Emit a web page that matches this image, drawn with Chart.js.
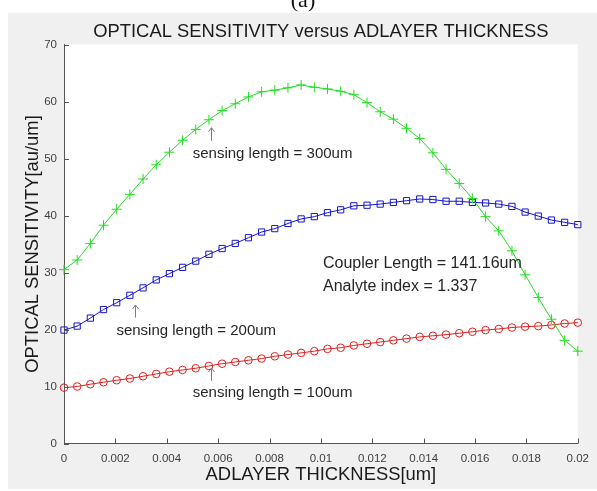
<!DOCTYPE html>
<html>
<head>
<meta charset="utf-8">
<script src="https://cdn.jsdelivr.net/npm/chart.js@4/dist/chart.umd.min.js"></script>
<style>
  html, body { margin: 0; padding: 0; background: #ffffff; }
  #wrap { width: 597px; height: 491px; }
</style>
</head>
<body>
<div id="wrap"><canvas id="c" width="597" height="491"></canvas></div>
<script>
// Adlayer thickness samples [um]
const thickness = [
  0, 0.000513, 0.001026, 0.001538, 0.002051, 0.002564, 0.003077, 0.003590,
  0.004103, 0.004615, 0.005128, 0.005641, 0.006154, 0.006667, 0.007179, 0.007692,
  0.008205, 0.008718, 0.009231, 0.009744, 0.010256, 0.010769, 0.011282, 0.011795,
  0.012308, 0.012821, 0.013333, 0.013846, 0.014359, 0.014872, 0.015385, 0.015897,
  0.016410, 0.016923, 0.017436, 0.017949, 0.018462, 0.018974, 0.019487, 0.020000
];

// Optical sensitivity [au/um] for each sensing length
const sens300 = [
  30.5, 32.2, 35.1, 38.3, 41.1, 43.7, 46.4, 48.9, 51.1, 53.2,
  55.1, 56.8, 58.4, 59.6, 60.8, 61.7, 62.0, 62.4, 62.9, 62.5,
  62.2, 61.8, 61.2, 59.8, 58.2, 56.9, 55.3, 53.5, 51.0, 48.1,
  45.6, 43.0, 39.8, 37.3, 33.8, 29.6, 25.6, 21.8, 18.1, 16.2
];
const sens200 = [
  19.9, 20.6, 22.0, 23.5, 24.7, 26.0, 27.3, 28.7, 29.8, 30.9,
  32.0, 33.2, 34.2, 35.1, 36.1, 37.1, 37.7, 38.6, 39.4, 39.8,
  40.5, 41.0, 41.7, 41.8, 42.0, 42.3, 42.6, 42.9, 42.8, 42.5,
  42.5, 42.3, 42.2, 42.0, 41.6, 40.6, 39.9, 39.2, 38.8, 38.4
];
const sens100 = [
  9.8, 10.0, 10.4, 10.75, 11.1, 11.4, 11.8, 12.2, 12.6, 12.9,
  13.2, 13.6, 14.0, 14.3, 14.6, 14.9, 15.3, 15.6, 15.9, 16.2,
  16.6, 16.8, 17.2, 17.5, 17.8, 18.1, 18.4, 18.7, 18.9, 19.1,
  19.35, 19.6, 19.9, 20.1, 20.35, 20.5, 20.6, 20.8, 21.05, 21.2
];

// Axis ticks
const xTicks = [0, 0.002, 0.004, 0.006, 0.008, 0.01, 0.012, 0.014, 0.016, 0.018, 0.02];
const xTickLabels = ['0', '0.002', '0.004', '0.006', '0.008', '0.01', '0.012', '0.014', '0.016', '0.018', '0.02'];
const yTicks = [0, 10, 20, 30, 40, 50, 60, 70];
const yTickLabels = ['0', '10', '20', '30', '40', '50', '60', '70'];

// Texts
const figureTag = '(a)';
const chartTitle = 'OPTICAL SENSITIVITY versus ADLAYER THICKNESS';
const xTitle = 'ADLAYER THICKNESS[um]';
const yTitle = 'OPTICAL SENSITIVITY[au/um]';

// Curve labels: text anchor (left, middle) and arrow tip/tail in data units
const curveNotes = [
  { text: 'sensing length = 300um', x: 0.00501, y: 50.8, ax: 0.00574, ayTip: 55.4, ayTail: 53.1 },
  { text: 'sensing length = 200um', x: 0.00204, y: 19.7, ax: 0.00277, ayTip: 24.3, ayTail: 22.1 },
  { text: 'sensing length = 100um', x: 0.00501, y: 8.85, ax: 0.00574, ayTip: 13.25, ayTail: 11.0 }
];
const infoLines = ['Coupler Length = 141.16um', 'Analyte index = 1.337'];
const infoAnchor = { x: 0.01008, y: 31.6 };

const FONT = '"Liberation Sans", Arial, Helvetica, sans-serif';

const pairs = ys => thickness.map((t, i) => ({ x: t, y: ys[i] }));

const figurePlugin = {
  id: 'figure',
  beforeDraw(chart) {
    const { ctx, chartArea: a, width, height } = chart;
    ctx.save();
    ctx.fillStyle = '#ffffff';
    ctx.fillRect(0, 0, width, height);
    // figure tag, partly covered by the figure panel
    ctx.fillStyle = '#111111';
    ctx.font = '22px "Liberation Serif", "Times New Roman", serif';
    ctx.textAlign = 'center';
    ctx.textBaseline = 'alphabetic';
    ctx.fillText(figureTag, 303, 7);
    ctx.fillStyle = '#f0f0f0';
    ctx.fillRect(8, 13, width - 8, height - 15);
    ctx.fillStyle = '#ffffff';
    ctx.fillRect(a.left, a.top, a.right - a.left, a.bottom - a.top);
    ctx.restore();
  },
  afterDraw(chart) {
    const { ctx, chartArea: a, scales: { x, y } } = chart;
    ctx.save();
    // inward tick marks
    ctx.strokeStyle = '#555555';
    ctx.lineWidth = 1;
    ctx.beginPath();
    xTicks.forEach(v => {
      const px = Math.round(x.getPixelForValue(v)) + 0.5;
      ctx.moveTo(px, a.bottom);
      ctx.lineTo(px, a.bottom - 5);
    });
    yTicks.forEach(v => {
      const py = Math.round(y.getPixelForValue(v)) + 0.5;
      ctx.moveTo(a.left, py);
      ctx.lineTo(a.left + 5, py);
    });
    ctx.stroke();

    // titles
    ctx.fillStyle = '#1a1a1a';
    ctx.font = '18.4px ' + FONT;
    ctx.textAlign = 'center';
    ctx.textBaseline = 'alphabetic';
    const cx = (a.left + a.right) / 2;
    ctx.fillText(chartTitle, cx, 37);
    ctx.fillText(xTitle, cx, 480);
    ctx.save();
    ctx.translate(38, (a.top + a.bottom) / 2);
    ctx.rotate(-Math.PI / 2);
    ctx.fillText(yTitle, 0, 0);
    ctx.restore();

    // curve labels with arrows
    ctx.font = '15px ' + FONT;
    ctx.textAlign = 'left';
    ctx.textBaseline = 'middle';
    curveNotes.forEach(n => {
      ctx.fillStyle = '#262626';
      ctx.fillText(n.text, x.getPixelForValue(n.x), y.getPixelForValue(n.y));
      const ax = Math.round(x.getPixelForValue(n.ax)) + 0.5;
      const tip = y.getPixelForValue(n.ayTip);
      const tail = y.getPixelForValue(n.ayTail);
      ctx.strokeStyle = '#7a7a7a';
      ctx.lineWidth = 1;
      ctx.beginPath();
      ctx.moveTo(ax, tail);
      ctx.lineTo(ax, tip);
      ctx.moveTo(ax - 3, tip + 4);
      ctx.lineTo(ax, tip);
      ctx.lineTo(ax + 3, tip + 4);
      ctx.stroke();
    });
    ctx.fillStyle = '#262626';
    ctx.font = '16px ' + FONT;
    const ix = x.getPixelForValue(infoAnchor.x);
    const iy = y.getPixelForValue(infoAnchor.y);
    infoLines.forEach((t, i) => ctx.fillText(t, ix, iy + i * 23));
    ctx.restore();
  }
};

const line = (data, color, style, radius) => ({
  data: pairs(data),
  borderColor: color,
  borderWidth: 1,
  pointStyle: style,
  pointRadius: radius,
  pointBorderColor: color,
  pointBackgroundColor: 'rgba(0,0,0,0)',
  pointBorderWidth: 1,
  tension: 0,
  clip: false
});

new Chart(document.getElementById('c'), {
  type: 'line',
  data: {
    datasets: [
      line(sens300, '#22dd22', 'cross', 5),
      line(sens200, '#1515d0', 'rect', 4.4),
      line(sens100, '#e02020', 'circle', 3.8)
    ]
  },
  options: {
    responsive: false,
    animation: false,
    events: [],
    layout: { padding: { top: 44.5, right: 15, bottom: 0, left: 0 } },
    plugins: { legend: { display: false }, title: { display: false }, tooltip: { enabled: false } },
    scales: {
      x: {
        type: 'linear',
        min: 0, max: 0.02,
        afterFit: s => { s.height = 47.5; },
        afterBuildTicks: s => { s.ticks = xTicks.map(v => ({ value: v })); },
        ticks: {
          autoSkip: false, maxRotation: 0, padding: 8,
          color: '#404040',
          font: { family: FONT, size: 11.5 },
          callback: (v, i) => xTickLabels[i]
        },
        grid: { display: true, drawOnChartArea: false, drawTicks: false },
        border: { display: true, color: '#555555', width: 1 }
      },
      y: {
        type: 'linear',
        min: 0, max: 70,
        afterFit: s => { s.width = 64; },
        afterBuildTicks: s => { s.ticks = yTicks.map(v => ({ value: v })); },
        ticks: {
          autoSkip: false, padding: 7,
          color: '#404040',
          font: { family: FONT, size: 11.5 },
          callback: (v, i) => yTickLabels[i]
        },
        grid: { display: true, drawOnChartArea: false, drawTicks: false },
        border: { display: true, color: '#555555', width: 1 }
      }
    }
  },
  plugins: [figurePlugin]
});
</script>
</body>
</html>
